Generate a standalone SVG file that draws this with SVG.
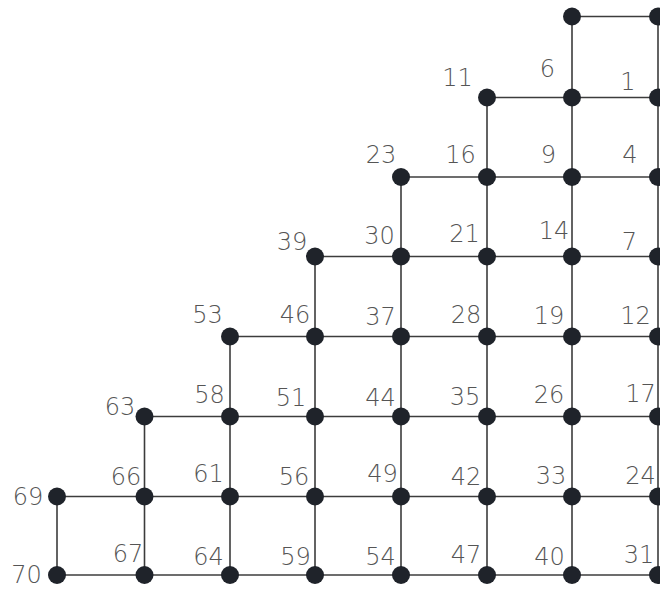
<svg xmlns="http://www.w3.org/2000/svg" width="660" height="590" viewBox="0 0 660 590">
<style>
.e{stroke:#3c3c3c;stroke-width:1.6;fill:none}
.n{fill:#1f232a}
.t{font-family:"DejaVu Sans","Liberation Sans",sans-serif;font-size:24px;font-weight:200;fill:#555;text-anchor:middle}
</style>
<rect width="660" height="590" fill="#fff"/>
<g id="connectors">
<line class="e" x1="572" y1="16.5" x2="658" y2="16.5"/>
<line class="e" x1="487" y1="97.5" x2="572" y2="97.5"/>
<line class="e" x1="572" y1="97.5" x2="658" y2="97.5"/>
<line class="e" x1="401" y1="177" x2="487" y2="177"/>
<line class="e" x1="487" y1="177" x2="572" y2="177"/>
<line class="e" x1="572" y1="177" x2="658" y2="177"/>
<line class="e" x1="315" y1="256.5" x2="401" y2="256.5"/>
<line class="e" x1="401" y1="256.5" x2="487" y2="256.5"/>
<line class="e" x1="487" y1="256.5" x2="572" y2="256.5"/>
<line class="e" x1="572" y1="256.5" x2="658" y2="256.5"/>
<line class="e" x1="230" y1="336.5" x2="315" y2="336.5"/>
<line class="e" x1="315" y1="336.5" x2="401" y2="336.5"/>
<line class="e" x1="401" y1="336.5" x2="487" y2="336.5"/>
<line class="e" x1="487" y1="336.5" x2="572" y2="336.5"/>
<line class="e" x1="572" y1="336.5" x2="658" y2="336.5"/>
<line class="e" x1="144.5" y1="416.5" x2="230" y2="416.5"/>
<line class="e" x1="230" y1="416.5" x2="315" y2="416.5"/>
<line class="e" x1="315" y1="416.5" x2="401" y2="416.5"/>
<line class="e" x1="401" y1="416.5" x2="487" y2="416.5"/>
<line class="e" x1="487" y1="416.5" x2="572" y2="416.5"/>
<line class="e" x1="572" y1="416.5" x2="658" y2="416.5"/>
<line class="e" x1="57" y1="496.5" x2="144.5" y2="496.5"/>
<line class="e" x1="144.5" y1="496.5" x2="230" y2="496.5"/>
<line class="e" x1="230" y1="496.5" x2="315" y2="496.5"/>
<line class="e" x1="315" y1="496.5" x2="401" y2="496.5"/>
<line class="e" x1="401" y1="496.5" x2="487" y2="496.5"/>
<line class="e" x1="487" y1="496.5" x2="572" y2="496.5"/>
<line class="e" x1="572" y1="496.5" x2="658" y2="496.5"/>
<line class="e" x1="57" y1="575" x2="144.5" y2="575"/>
<line class="e" x1="144.5" y1="575" x2="230" y2="575"/>
<line class="e" x1="230" y1="575" x2="315" y2="575"/>
<line class="e" x1="315" y1="575" x2="401" y2="575"/>
<line class="e" x1="401" y1="575" x2="487" y2="575"/>
<line class="e" x1="487" y1="575" x2="572" y2="575"/>
<line class="e" x1="572" y1="575" x2="658" y2="575"/>
<line class="e" x1="57" y1="496.5" x2="57" y2="575"/>
<line class="e" x1="144.5" y1="416.5" x2="144.5" y2="496.5"/>
<line class="e" x1="144.5" y1="496.5" x2="144.5" y2="575"/>
<line class="e" x1="230" y1="336.5" x2="230" y2="416.5"/>
<line class="e" x1="230" y1="416.5" x2="230" y2="496.5"/>
<line class="e" x1="230" y1="496.5" x2="230" y2="575"/>
<line class="e" x1="315" y1="256.5" x2="315" y2="336.5"/>
<line class="e" x1="315" y1="336.5" x2="315" y2="416.5"/>
<line class="e" x1="315" y1="416.5" x2="315" y2="496.5"/>
<line class="e" x1="315" y1="496.5" x2="315" y2="575"/>
<line class="e" x1="401" y1="177" x2="401" y2="256.5"/>
<line class="e" x1="401" y1="256.5" x2="401" y2="336.5"/>
<line class="e" x1="401" y1="336.5" x2="401" y2="416.5"/>
<line class="e" x1="401" y1="416.5" x2="401" y2="496.5"/>
<line class="e" x1="401" y1="496.5" x2="401" y2="575"/>
<line class="e" x1="487" y1="97.5" x2="487" y2="177"/>
<line class="e" x1="487" y1="177" x2="487" y2="256.5"/>
<line class="e" x1="487" y1="256.5" x2="487" y2="336.5"/>
<line class="e" x1="487" y1="336.5" x2="487" y2="416.5"/>
<line class="e" x1="487" y1="416.5" x2="487" y2="496.5"/>
<line class="e" x1="487" y1="496.5" x2="487" y2="575"/>
<line class="e" x1="572" y1="16.5" x2="572" y2="97.5"/>
<line class="e" x1="572" y1="97.5" x2="572" y2="177"/>
<line class="e" x1="572" y1="177" x2="572" y2="256.5"/>
<line class="e" x1="572" y1="256.5" x2="572" y2="336.5"/>
<line class="e" x1="572" y1="336.5" x2="572" y2="416.5"/>
<line class="e" x1="572" y1="416.5" x2="572" y2="496.5"/>
<line class="e" x1="572" y1="496.5" x2="572" y2="575"/>
<line class="e" x1="658" y1="16.5" x2="658" y2="97.5"/>
<line class="e" x1="658" y1="97.5" x2="658" y2="177"/>
<line class="e" x1="658" y1="177" x2="658" y2="256.5"/>
<line class="e" x1="658" y1="256.5" x2="658" y2="336.5"/>
<line class="e" x1="658" y1="336.5" x2="658" y2="416.5"/>
<line class="e" x1="658" y1="416.5" x2="658" y2="496.5"/>
<line class="e" x1="658" y1="496.5" x2="658" y2="575"/>
</g>
<g id="node-top-a"><circle class="n" cx="572" cy="16.5" r="9"/></g>
<g id="node-top-b"><circle class="n" cx="658" cy="16.5" r="9"/></g>
<g id="node-11"><circle class="n" cx="487" cy="97.5" r="9"/><text class="t" x="457.5" y="86">11</text></g>
<g id="node-6"><circle class="n" cx="572" cy="97.5" r="9"/><text class="t" x="547.5" y="77">6</text></g>
<g id="node-1"><circle class="n" cx="658" cy="97.5" r="9"/><text class="t" x="628" y="90">1</text></g>
<g id="node-23"><circle class="n" cx="401" cy="177" r="9"/><text class="t" x="381" y="163">23</text></g>
<g id="node-16"><circle class="n" cx="487" cy="177" r="9"/><text class="t" x="460.5" y="163">16</text></g>
<g id="node-9"><circle class="n" cx="572" cy="177" r="9"/><text class="t" x="548.5" y="163">9</text></g>
<g id="node-4"><circle class="n" cx="658" cy="177" r="9"/><text class="t" x="630" y="163">4</text></g>
<g id="node-39"><circle class="n" cx="315" cy="256.5" r="9"/><text class="t" x="292" y="250">39</text></g>
<g id="node-30"><circle class="n" cx="401" cy="256.5" r="9"/><text class="t" x="379.5" y="244">30</text></g>
<g id="node-21"><circle class="n" cx="487" cy="256.5" r="9"/><text class="t" x="464.5" y="242">21</text></g>
<g id="node-14"><circle class="n" cx="572" cy="256.5" r="9"/><text class="t" x="554" y="239">14</text></g>
<g id="node-7"><circle class="n" cx="658" cy="256.5" r="9"/><text class="t" x="629.5" y="250">7</text></g>
<g id="node-53"><circle class="n" cx="230" cy="336.5" r="9"/><text class="t" x="207.5" y="323">53</text></g>
<g id="node-46"><circle class="n" cx="315" cy="336.5" r="9"/><text class="t" x="295" y="323">46</text></g>
<g id="node-37"><circle class="n" cx="401" cy="336.5" r="9"/><text class="t" x="380.5" y="325">37</text></g>
<g id="node-28"><circle class="n" cx="487" cy="336.5" r="9"/><text class="t" x="466" y="323">28</text></g>
<g id="node-19"><circle class="n" cx="572" cy="336.5" r="9"/><text class="t" x="549" y="324">19</text></g>
<g id="node-12"><circle class="n" cx="658" cy="336.5" r="9"/><text class="t" x="635.5" y="324">12</text></g>
<g id="node-63"><circle class="n" cx="144.5" cy="416.5" r="9"/><text class="t" x="120" y="415">63</text></g>
<g id="node-58"><circle class="n" cx="230" cy="416.5" r="9"/><text class="t" x="209.5" y="403">58</text></g>
<g id="node-51"><circle class="n" cx="315" cy="416.5" r="9"/><text class="t" x="291" y="406">51</text></g>
<g id="node-44"><circle class="n" cx="401" cy="416.5" r="9"/><text class="t" x="380.5" y="406">44</text></g>
<g id="node-35"><circle class="n" cx="487" cy="416.5" r="9"/><text class="t" x="465" y="405">35</text></g>
<g id="node-26"><circle class="n" cx="572" cy="416.5" r="9"/><text class="t" x="549" y="403">26</text></g>
<g id="node-17"><circle class="n" cx="658" cy="416.5" r="9"/><text class="t" x="640.5" y="402">17</text></g>
<g id="node-69"><circle class="n" cx="57" cy="496.5" r="9"/><text class="t" x="28" y="505">69</text></g>
<g id="node-66"><circle class="n" cx="144.5" cy="496.5" r="9"/><text class="t" x="126" y="485">66</text></g>
<g id="node-61"><circle class="n" cx="230" cy="496.5" r="9"/><text class="t" x="208.5" y="482">61</text></g>
<g id="node-56"><circle class="n" cx="315" cy="496.5" r="9"/><text class="t" x="294" y="485">56</text></g>
<g id="node-49"><circle class="n" cx="401" cy="496.5" r="9"/><text class="t" x="382.5" y="482">49</text></g>
<g id="node-42"><circle class="n" cx="487" cy="496.5" r="9"/><text class="t" x="466" y="485">42</text></g>
<g id="node-33"><circle class="n" cx="572" cy="496.5" r="9"/><text class="t" x="551" y="484">33</text></g>
<g id="node-24"><circle class="n" cx="658" cy="496.5" r="9"/><text class="t" x="640.5" y="484">24</text></g>
<g id="node-70"><circle class="n" cx="57" cy="575" r="9"/><text class="t" x="26.5" y="583">70</text></g>
<g id="node-67"><circle class="n" cx="144.5" cy="575" r="9"/><text class="t" x="128" y="562">67</text></g>
<g id="node-64"><circle class="n" cx="230" cy="575" r="9"/><text class="t" x="208.5" y="565">64</text></g>
<g id="node-59"><circle class="n" cx="315" cy="575" r="9"/><text class="t" x="295.5" y="565">59</text></g>
<g id="node-54"><circle class="n" cx="401" cy="575" r="9"/><text class="t" x="380.5" y="565">54</text></g>
<g id="node-47"><circle class="n" cx="487" cy="575" r="9"/><text class="t" x="466" y="563">47</text></g>
<g id="node-40"><circle class="n" cx="572" cy="575" r="9"/><text class="t" x="549.5" y="565">40</text></g>
<g id="node-31"><circle class="n" cx="658" cy="575" r="9"/><text class="t" x="639" y="563">31</text></g>
</svg>
